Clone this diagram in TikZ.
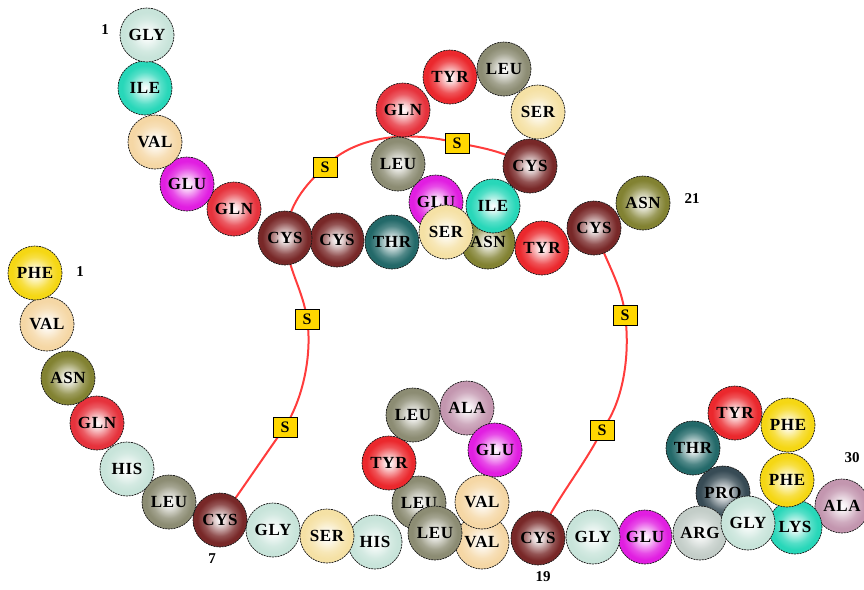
\documentclass[tikz,border=0pt]{standalone}
\usepackage{fontspec}
\setmainfont{Liberation Serif}
\newfontfamily\beadfont[LetterSpace=4]{Liberation Serif}
\usepackage{tikz}
\usepackage{xcolor}

\pgfdeclarelayer{background}
\pgfsetlayers{background,main}

% Bead shading: white centre, residue colour at the rim
\colorlet{beadcol}{white}
\pgfdeclareradialshading[beadcol]{beadfill}{\pgfpoint{0bp}{0bp}}{%
  color(0bp)=(white); color(5bp)=(beadcol!20!white);
  color(15bp)=(beadcol!80!white); color(21bp)=(beadcol);
  color(50bp)=(beadcol)}

\tikzset{
  bead/.style={circle, minimum size=54pt, inner sep=0pt,
    /utils/exec={\colorlet{beadcol}{#1}}, shading=beadfill,
    draw=black!90, line width=0.7pt, dash pattern=on 2pt off 0.8pt,
    font=\beadfont\bfseries\fontsize{17}{17}\selectfont},
  sbox/.style={draw=black, fill=sulfur, line width=0.6pt,
    minimum width=24pt, minimum height=20pt, inner sep=0pt,
    font=\bfseries\fontsize{16}{16}\selectfont},
  bond/.style={draw=bondred, line width=2pt},
  numlab/.style={font=\bfseries\fontsize{15}{15}\selectfont}
}

\begin{document}
\begin{tikzpicture}[x=1pt, y=-1pt]
        % Define colours
        \definecolor{beadGLY}{RGB}{200,228,218}
        \definecolor{beadHIS}{RGB}{200,228,218}
        \definecolor{beadILE}{RGB}{40,215,185}
        \definecolor{beadLYS}{RGB}{40,215,185}
        \definecolor{beadVAL}{RGB}{245,215,165}
        \definecolor{beadSER}{RGB}{245,225,165}
        \definecolor{beadGLU}{RGB}{225,30,225}
        \definecolor{beadGLN}{RGB}{230,50,60}
        \definecolor{beadTYR}{RGB}{235,40,45}
        \definecolor{beadCYS}{RGB}{120,40,40}
        \definecolor{beadTHR}{RGB}{35,105,105}
        \definecolor{beadLEU}{RGB}{140,140,115}
        \definecolor{beadASN}{RGB}{130,130,50}
        \definecolor{beadPHE}{RGB}{245,215,20}
        \definecolor{beadALA}{RGB}{195,150,175}
        \definecolor{beadARG}{RGB}{195,205,200}
        \definecolor{beadPRO}{RGB}{55,75,85}
        \definecolor{sulfur}{RGB}{255,215,0}
        \definecolor{bondred}{RGB}{255,60,60}
        \useasboundingbox (0,0) rectangle (864,589);

        % Draw the A chain (last residue first)
        \foreach \n/\x/\y/\res in {21/643/203/ASN, 20/594/228/CYS, 19/542/248/TYR,
            18/488/242/ASN, 17/436/202/GLU, 16/398/164/LEU, 15/403/110/GLN,
            14/450/77/TYR, 13/504/69/LEU, 12/538/112/SER, 11/530/166/CYS,
            10/493/206/ILE, 9/446/232/SER, 8/392/242/THR, 7/337/240/CYS,
            6/285/238/CYS, 5/234/209/GLN, 4/187/184/GLU, 3/155/142/VAL,
            2/145/88/ILE, 1/147/35/GLY} {
            \node[bead=bead\res] (a\n) at (\x,\y) {\res};
        }

        % Draw the B chain (last residue first)
        \foreach \n/\x/\y/\res in {30/842/506/ALA, 29/795/527/LYS, 28/723/493/PRO,
            27/693/448/THR, 26/735/413/TYR, 25/788/425/PHE, 24/787/480/PHE,
            22/700/533/ARG, 23/748/523/GLY, 21/645/537/GLU, 20/593/537/GLY,
            19/538/538/CYS, 18/482/542/VAL, 17/419/503/LEU, 16/389/463/TYR,
            15/413/415/LEU, 14/467/408/ALA, 13/495/450/GLU, 12/482/502/VAL,
            11/435/533/LEU, 10/375/542/HIS, 9/327/536/SER, 8/273/530/GLY,
            7/220/520/CYS, 6/169/502/LEU, 5/127/469/HIS, 4/97/423/GLN,
            3/68/378/ASN, 2/47/324/VAL, 1/35/273/PHE} {
            \node[bead=bead\res] (b\n) at (\x,\y) {\res};
        }

        % Sulfur boxes
        \node[sbox] (s1) at (325,167) {S};
        \node[sbox] (s2) at (457,143) {S};
        \node[sbox] (s3) at (307,319) {S};
        \node[sbox] (s4) at (285,427) {S};
        \node[sbox] (s5) at (625,315) {S};
        \node[sbox] (s6) at (602,430) {S};

        % Residue numbers
        \node[numlab] (na1) at (105,30) {1};
        \node[numlab] (na21) at (692,199) {21};
        \node[numlab] (nb1) at (80,272) {1};
        \node[numlab] (nb7) at (212,559) {7};
        \node[numlab] (nb19) at (543,577) {19};
        \node[numlab] (nb30) at (852,458) {30};

        % Draw the disulfide bridges behind the beads
        \begin{pgfonlayer}{background}
            \draw[bond] (a6.center) .. controls (288,205) and (305,185) .. (s1.center)
                .. controls (350,140) and (400,128) .. (s2.center)
                .. controls (485,148) and (505,152) .. (a11.center);
            \draw[bond] (a6.center) .. controls (288,270) and (303,290) .. (s3.center)
                .. controls (312,350) and (305,395) .. (s4.center)
                .. controls (265,455) and (245,485) .. (b7.center);
            \draw[bond] (a20.center) .. controls (605,260) and (622,285) .. (s5.center)
                .. controls (630,350) and (625,400) .. (s6.center)
                .. controls (585,465) and (555,500) .. (b19.center);
        \end{pgfonlayer}
\end{tikzpicture}
\end{document}
